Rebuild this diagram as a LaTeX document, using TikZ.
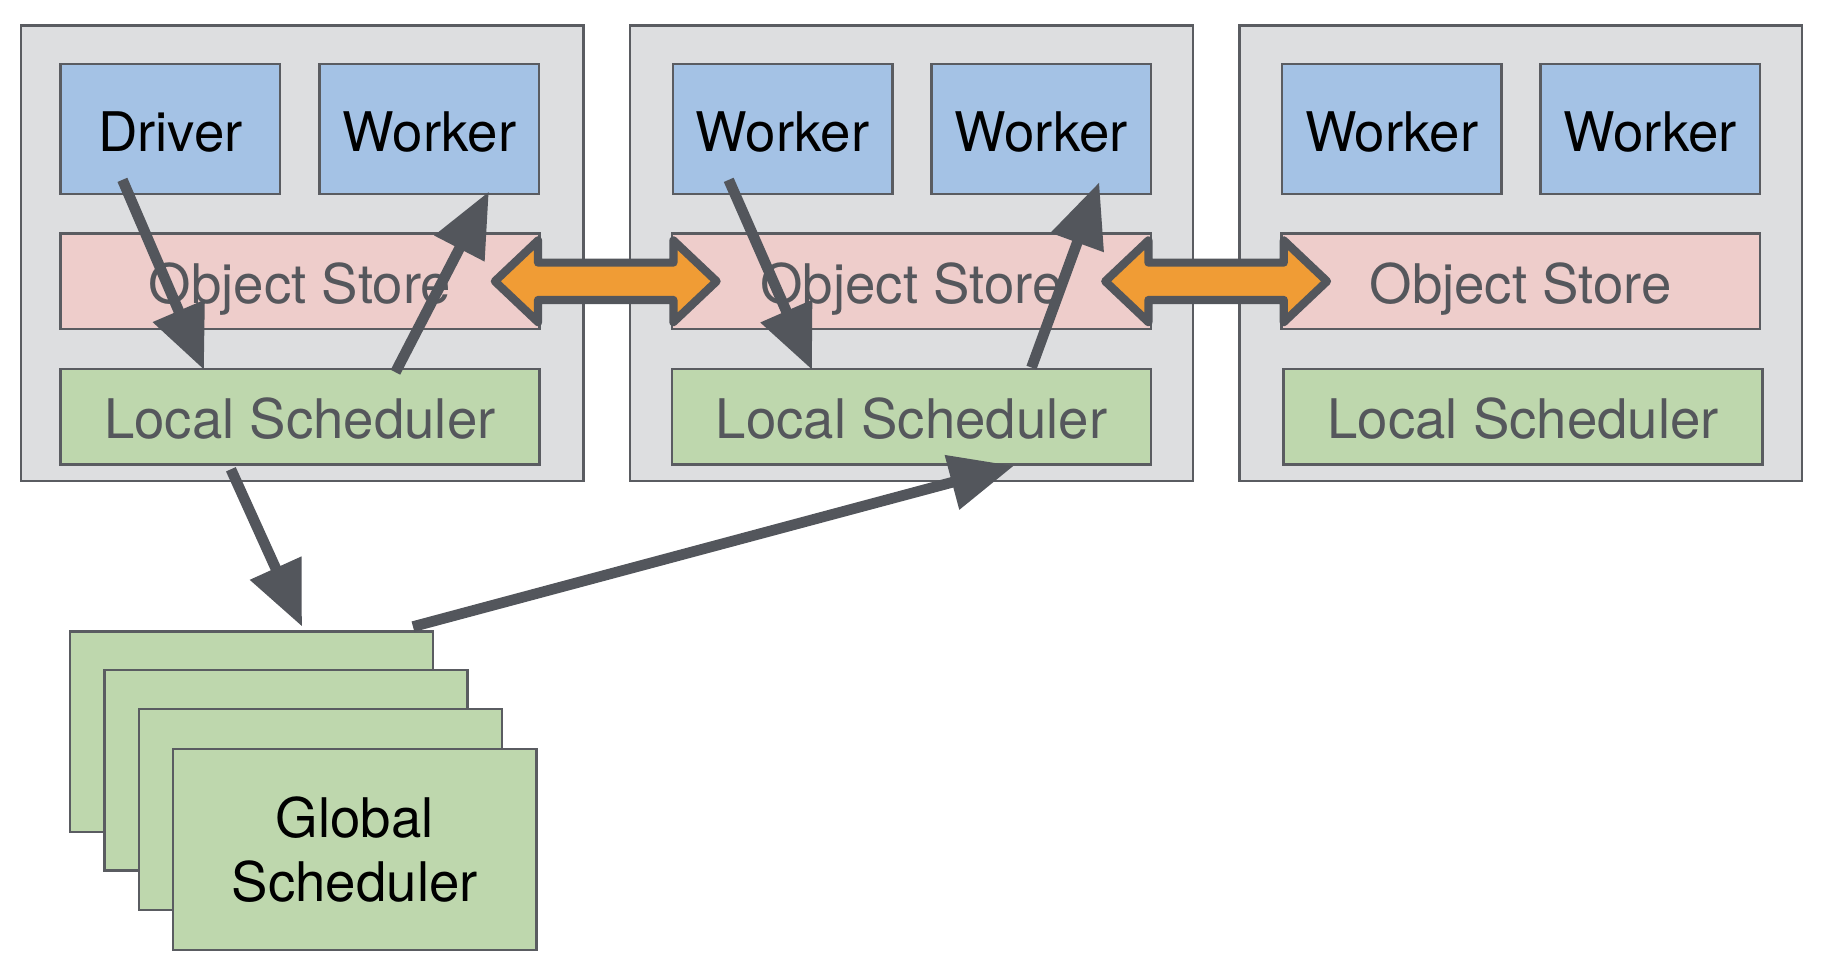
\documentclass[tikz,border=0pt]{standalone}
\usepackage{fontspec}
\setmainfont{TeX Gyre Heros}
\usepackage{tikz}
\usetikzlibrary{arrows.meta,calc}

\definecolor{machinegray}{HTML}{DDDEE0}
\definecolor{workerblue}{HTML}{A4C2E5}
\definecolor{storepink}{HTML}{EECDCB}
\definecolor{schedgreen}{HTML}{BED7AD}
\definecolor{linkorange}{HTML}{F09C35}
\definecolor{edgegray}{HTML}{5A5C61}
\definecolor{arrowgray}{HTML}{53565C}
\definecolor{textgray}{HTML}{55575C}

\begin{document}
\begin{tikzpicture}[x=0.01cm,y=-0.01cm,
	box/.style={draw=edgegray,line width=0.6pt,rectangle,inner sep=0pt,font=\fontsize{13.3}{15.6}\selectfont},
	label/.style={text height=0.42cm,text depth=0.04cm},
	machine/.style={box,fill=machinegray,minimum width=4.82cm,minimum height=3.9cm},
	proc/.style={box,label,fill=workerblue,minimum width=1.88cm,minimum height=1.11cm},
	store/.style={box,label,fill=storepink,minimum width=4.1cm,minimum height=0.82cm,text=textgray},
	sched/.style={box,label,fill=schedgreen,minimum width=4.1cm,minimum height=0.82cm,text=textgray},
	glob/.style={box,fill=schedgreen,minimum width=3.11cm,minimum height=1.72cm,align=center},
	flow/.style={draw=arrowgray,line width=2.6pt,-{Triangle[length=0.55cm,width=0.46cm]}},
	link/.style={draw=arrowgray,fill=linkorange,line width=2pt,line join=round}]
				\useasboundingbox (0,0) rectangle (1568,835);
				
				% machines
				\node[machine] (m1) at (259,217) {};
				\node[machine] (m2) at (781,217) {};
				\node[machine] (m3) at (1303,217) {};
				
				\node[proc] (drv) at (146,110.5) {Driver};
				\node[proc] (wk1) at (368,110.5) {Worker};
				\node[store] (os1) at (257,241) {Object Store};
				\node[sched] (ls1) at (257,357) {Local Scheduler};
				
				\node[proc] (wk2) at (670.5,110.5) {Worker};
				\node[proc] (wk3) at (892,110.5) {Worker};
				\node[store] (os2) at (781,241) {Object Store};
				\node[sched] (ls2) at (781,357) {Local Scheduler};
				
				\node[proc] (wk4) at (1192.5,110.5) {Worker};
				\node[proc] (wk5) at (1414,110.5) {Worker};
				\node[store] (os3) at (1303,241) {Object Store};
				\node[sched] (ls3) at (1305,357) {Local Scheduler};
				
				% global scheduler stack
				\node[glob] (gs1) at (215.5,627) {};
				\node[glob] (gs2) at (245,660) {};
				\node[glob] (gs3) at (274.5,693.5) {};
				\node[glob] (gs4) at (304,728) {Global\\Scheduler};
				
				\draw[flow] ([shift={(54,-13)}]drv.south west) -- ([shift={(124,2)}]ls1.north west);
				\draw[flow] ([shift={(288,4)}]ls1.north west) -- ([shift={(146,-3)}]wk1.south west);
				\draw[flow] ([shift={(49,-13)}]wk2.south west) -- ([shift={(121,2)}]ls2.north west);
				\draw[flow] ([shift={(309,0)}]ls2.north west) -- ([shift={(145,-11)}]wk3.south west);
				\draw[flow] ([shift={(147,3)}]ls1.south west) -- ([shift={(200,-3)}]gs1.north west);
				\draw[flow] ([shift={(295,-3)}]gs1.north west) -- ([shift={(294,0)}]ls2.south west);
				
				% object store transfers
				\coordinate (l1) at ($(os1.east)!0.5!(os2.west)$);
				\coordinate (l2) at ($(os2.east)!0.5!(os3.west)$);
				\draw[link] ($(l1)+(-95,0)$) -- ++(37,-35) -- ++(0,19) -- ++(116,0) -- ++(0,-19) -- ++(37,35)
					-- ++(-37,35) -- ++(0,-19) -- ++(-116,0) -- ++(0,19) -- cycle;
				\draw[link] ($(l2)+(-95,0)$) -- ++(37,-35) -- ++(0,19) -- ++(116,0) -- ++(0,-19) -- ++(37,35)
					-- ++(-37,35) -- ++(0,-19) -- ++(-116,0) -- ++(0,19) -- cycle;
			\end{tikzpicture}
\end{document}
